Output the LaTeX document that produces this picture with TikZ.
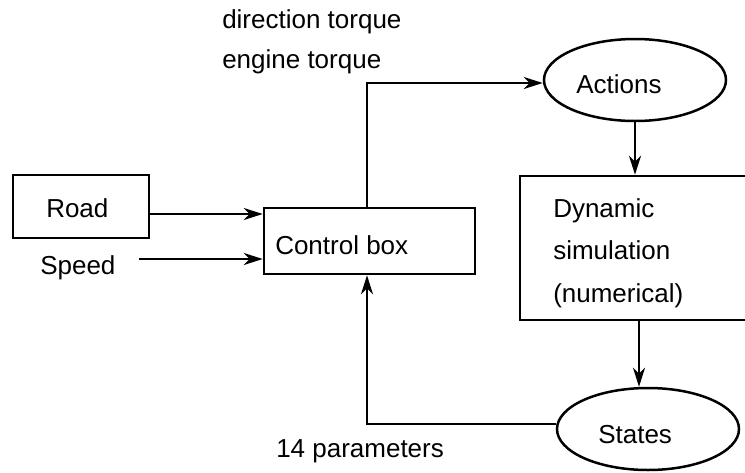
\documentclass[tikz,border=0pt]{standalone}
\usepackage{fontspec}
\setmainfont{Liberation Sans}
\usetikzlibrary{shapes.geometric,arrows.meta}

\begin{document}
\begin{tikzpicture}[x=1pt,y=-1pt,
  line width=2.5pt,
  every node/.style={font=\fontsize{26pt}{42.5pt}\selectfont},
  txt/.style={inner sep=0pt, anchor=base west},
  box/.style={draw, rectangle, inner sep=0pt},
  oval/.style={draw, ellipse, inner sep=0pt, minimum width=182pt, minimum height=82pt},
  arr/.style={-{Stealth[length=19pt,width=12pt,inset=6pt]}}
]
\useasboundingbox (0,0) rectangle (745,472);

% blocks
\node[box, minimum width=136pt, minimum height=63pt] (road) at (81,206.5) {};
\node[box, minimum width=211pt, minimum height=66pt] (ctrl) at (369.5,241) {};
\node[box, minimum width=230pt, minimum height=144pt] (dyn) at (635,248) {};
\node[oval] (actions) at (635,80) {};
\node[oval] (states) at (648,429) {};

% texts inside the blocks
\node[txt] (roadtxt) at ([xshift=-36pt, yshift=-10.5pt]road.center) {Road};
\node[txt] (ctrltxt) at ([xshift=-95.5pt, yshift=-13pt]ctrl.center) {Control box};
\node[txt, align=left] (dyntxt) at ([xshift=-83pt, yshift=-54pt]dyn.center)
  {Dynamic\\simulation\\(numerical)};
\node[txt] (acttxt) at ([xshift=-60pt, yshift=-13pt]actions.center) {Actions};
\node[txt] (sttxt) at ([xshift=-51pt, yshift=-14pt]states.center) {States};

% free texts
\node[txt] (dirtq) at (221,28) {direction torque};
\node[txt] (engtq) at (221,68) {engine torque};
\node[txt] (speed) at (39,274) {Speed};
\node[txt] (params) at (275,457) {14 parameters};

% connectors
\coordinate (roadout) at ([yshift=-7.5pt]road.east);
\draw[arr] (roadout) -- (roadout -| ctrl.west);
\coordinate (speedout) at (139,259);
\draw[arr] (speedout) -- (speedout -| ctrl.west);
\coordinate (ctrlup) at ([xshift=-2.5pt]ctrl.north);
\coordinate (actin) at ([yshift=-3pt]actions.west);
\draw[arr] (ctrlup) |- (actin);
\draw[arr] (actions.south) -- (actions.south |- dyn.north);
\coordinate (dynout) at ([xshift=4pt]dyn.south);
\draw[arr] (dynout) -- (dynout |- states.north);
\coordinate (stout) at ([yshift=5pt]states.west);
\coordinate (ctrldown) at ([xshift=-2.5pt]ctrl.south);
\draw[arr] (stout) -| (ctrldown);
\end{tikzpicture}
\end{document}
